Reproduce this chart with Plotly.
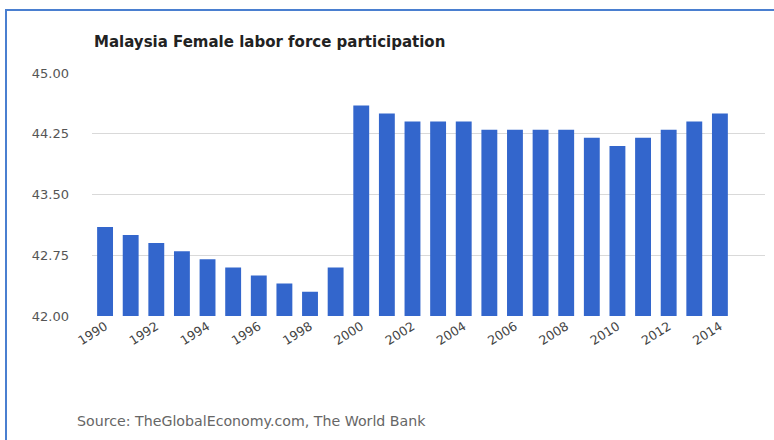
import plotly.graph_objects as go

years = [str(y) for y in range(1990, 2015)]
values = [43.1, 43.0, 42.9, 42.8, 42.7, 42.6, 42.5, 42.4, 42.3, 42.6,
          44.6, 44.5, 44.4, 44.4, 44.4, 44.3, 44.3, 44.3, 44.3, 44.2,
          44.1, 44.2, 44.3, 44.4, 44.5]
x_tick_labels = [str(y) for y in range(1990, 2015, 2)]
y_ticks = [42.0, 42.75, 43.5, 44.25, 45.0]

title_text = "Malaysia Female labor force participation"
source_text = "Source: TheGlobalEconomy.com, The World Bank"

L, R, T, B = 92, 9, 73, 124
W, H = 774, 440
pw, ph = W - L - R, H - T - B

def px(xp):
    return (xp - L) / pw

def py(yp):
    return (H - B - yp) / ph

FONT = "DejaVu Sans, Verdana, sans-serif"

fig = go.Figure()
fig.add_trace(go.Bar(
    x=years, y=values, base=0,
    marker=dict(color="#3366cc", line=dict(width=0)),
    hoverinfo="x+y",
))

fig.update_layout(
    width=W, height=H,
    margin=dict(l=L, r=R, t=T, b=B),
    paper_bgcolor="white", plot_bgcolor="white",
    bargap=0.38,
    showlegend=False,
    font=dict(family=FONT, color="#444", size=12),
    xaxis=dict(
        type="category",
        range=[-0.51, 25.76],
        tickmode="array", tickvals=x_tick_labels, ticktext=x_tick_labels,
        tickangle=-32,
        showgrid=False, showline=False, zeroline=False,
        ticks="", tickfont=dict(family=FONT, size=12.5, color="#444"),
    ),
    yaxis=dict(
        range=[42, 45],
        tickmode="array", tickvals=y_ticks,
        tickformat=".2f",
        showgrid=True, gridcolor="#d9d9d9", gridwidth=1,
        zeroline=False, showline=False, ticks="",
        ticklabelstandoff=22,
        tickfont=dict(family=FONT, size=13, color="#555"),
    ),
    annotations=[
        dict(text="<b>" + title_text + "</b>", xref="paper", yref="paper",
             x=px(92), y=py(42), xanchor="left", yanchor="middle",
             showarrow=False, font=dict(family=FONT, size=15, color="#222")),
        dict(text=source_text, xref="paper", yref="paper",
             x=px(75), y=py(421), xanchor="left", yanchor="middle",
             showarrow=False, font=dict(family=FONT, size=14.2, color="#666")),
    ],
    shapes=[
        dict(type="line", xref="paper", yref="paper",
             x0=px(5), x1=px(774), y0=py(10), y1=py(10),
             line=dict(color="#4a7fd0", width=2)),
        dict(type="line", xref="paper", yref="paper",
             x0=px(6), x1=px(6), y0=py(10), y1=py(440),
             line=dict(color="#4a7fd0", width=2)),
    ],
)

fig.write_html("out.html")
